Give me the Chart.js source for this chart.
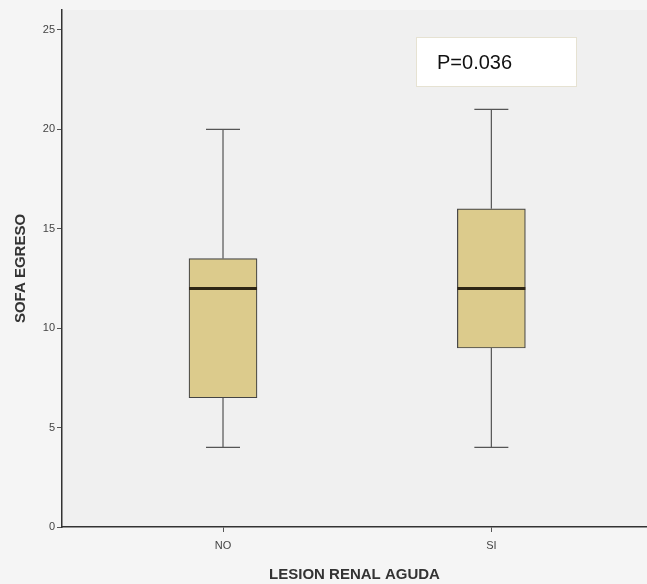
<!DOCTYPE html>
<html>
<head>
<meta charset="utf-8">
<script src="https://cdn.jsdelivr.net/npm/chart.js@4"></script>
<style>
  html, body { margin: 0; padding: 0; background: #f4f4f4; }
  #wrap { width: 647px; height: 584px; position: relative; }
</style>
</head>
<body>
<div id="wrap"><canvas id="boxChart" width="647" height="584"></canvas></div>
<script>
// Boxplot values (SOFA EGRESO by LESION RENAL AGUDA)
const categories = ['NO', 'SI'];
const whiskerLow = [4, 4];
const q1 = [6.5, 9];
const median = [12, 12];
const q3 = [13.5, 16];
const whiskerHigh = [20, 21];
const yTicks = [0, 5, 10, 15, 20, 25];
const pLabel = 'P=0.036';

// x positions of the categories on the linear axis
const xPos = categories.map((c, i) => i + 1);

// Draw whiskers, caps and the median line using the chart's scales
const boxExtras = {
    id: 'boxExtras',
    afterDatasetsDraw(chart) {
        const ctx = chart.ctx;
        const x = chart.scales.x;
        const y = chart.scales.y;
        const capHalf = 17;
        const boxHalf = 34;
        ctx.save();
        xPos.forEach((v, i) => {
            const px = x.getPixelForValue(v);
            ctx.strokeStyle = '#555';
            ctx.lineWidth = 1.2;
            ctx.beginPath();
            // upper whisker
            ctx.moveTo(px, y.getPixelForValue(q3[i]));
            ctx.lineTo(px, y.getPixelForValue(whiskerHigh[i]));
            // lower whisker
            ctx.moveTo(px, y.getPixelForValue(q1[i]));
            ctx.lineTo(px, y.getPixelForValue(whiskerLow[i]));
            // caps
            ctx.moveTo(px - capHalf, y.getPixelForValue(whiskerHigh[i]));
            ctx.lineTo(px + capHalf, y.getPixelForValue(whiskerHigh[i]));
            ctx.moveTo(px - capHalf, y.getPixelForValue(whiskerLow[i]));
            ctx.lineTo(px + capHalf, y.getPixelForValue(whiskerLow[i]));
            ctx.stroke();

            // median
            ctx.strokeStyle = '#2e2615';
            ctx.lineWidth = 3;
            ctx.beginPath();
            ctx.moveTo(px - boxHalf, y.getPixelForValue(median[i]));
            ctx.lineTo(px + boxHalf, y.getPixelForValue(median[i]));
            ctx.stroke();
        });

        // p-value box
        ctx.fillStyle = '#ffffff';
        ctx.strokeStyle = '#e6e2d2';
        ctx.lineWidth = 1;
        ctx.fillRect(416, 37, 160, 49);
        ctx.strokeRect(416.5, 37.5, 160, 49);
        ctx.fillStyle = '#111';
        ctx.font = '20px "Liberation Sans", Arial, sans-serif';
        ctx.textBaseline = 'alphabetic';
        ctx.fillText(pLabel, 437, 69);
        ctx.restore();
    }
};

// Light grey plot background
const plotBg = {
    id: 'plotBg',
    beforeDraw(chart) {
        const a = chart.chartArea;
        const ctx = chart.ctx;
        ctx.save();
        ctx.fillStyle = '#f5f5f5';
        ctx.fillRect(0, 0, chart.width, chart.height);
        ctx.fillStyle = '#f0f0f0';
        ctx.fillRect(a.left, a.top, a.right - a.left, a.bottom - a.top);
        ctx.restore();
    }
};

const ctx = document.getElementById('boxChart').getContext('2d');
new Chart(ctx, {
    type: 'bar',
    data: {
        datasets: [{
            label: 'SOFA EGRESO',
            data: xPos.map((v, i) => ({ x: v, y: [q1[i], q3[i]] })),
            backgroundColor: '#dccb8c',
            borderColor: '#444',
            borderWidth: 1.2,
            borderSkipped: false,
            barThickness: 68
        }]
    },
    options: {
        responsive: false,
        animation: false,
        layout: { padding: { top: 10, right: 0, left: 0, bottom: 0 } },
        plugins: {
            legend: { display: false },
            tooltip: { enabled: false }
        },
        scales: {
            x: {
                type: 'linear',
                min: 0.4,
                max: 2.58,
                offset: false,
                afterBuildTicks: s => { s.ticks = xPos.map(v => ({ value: v })); },
                afterFit: s => { s.height = 57; },
                ticks: {
                    callback: v => categories[v - 1],
                    color: '#444',
                    font: { family: '"Liberation Sans", Arial, sans-serif', size: 11 },
                    padding: 7,
                    maxRotation: 0
                },
                grid: { display: true, offset: false, drawOnChartArea: false, drawTicks: true, tickLength: 5, color: '#555' },
                border: { display: true, color: '#333', width: 1.5 },
                title: {
                    display: true,
                    text: 'LESION RENAL AGUDA',
                    color: '#333',
                    font: { family: '"Liberation Sans", Arial, sans-serif', size: 15, weight: 'bold' },
                    padding: { top: 4, bottom: 0 }
                }
            },
            y: {
                min: 0,
                max: 26,
                afterBuildTicks: s => { s.ticks = yTicks.map(v => ({ value: v })); },
                afterFit: s => { s.width = 62; },
                ticks: {
                    color: '#444',
                    font: { family: '"Liberation Sans", Arial, sans-serif', size: 11 },
                    padding: 2
                },
                grid: { display: true, drawOnChartArea: false, drawTicks: true, tickLength: 5, color: '#555' },
                border: { display: true, color: '#333', width: 1.5 },
                title: {
                    display: true,
                    text: 'SOFA EGRESO',
                    color: '#333',
                    font: { family: '"Liberation Sans", Arial, sans-serif', size: 15, weight: 'bold' },
                    padding: { top: 12, bottom: 4 }
                }
            }
        }
    },
    plugins: [plotBg, boxExtras]
});
</script>
</body>
</html>
